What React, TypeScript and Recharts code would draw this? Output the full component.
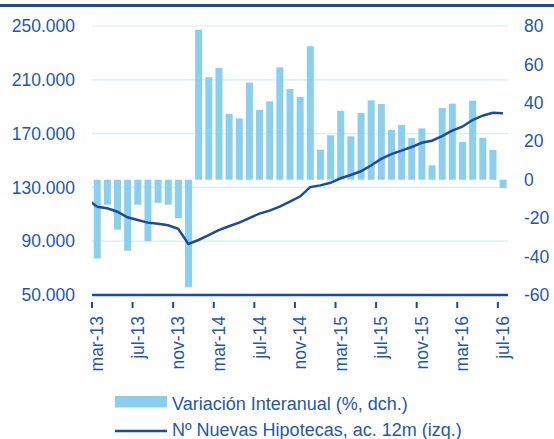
import React from 'react';
import { ComposedChart, Bar, Line, XAxis, YAxis, CartesianGrid, Legend } from 'recharts';

const months = [
  'mar-13','abr-13','may-13','jun-13','jul-13','ago-13','sep-13','oct-13','nov-13','dic-13',
  'ene-14','feb-14','mar-14','abr-14','may-14','jun-14','jul-14','ago-14','sep-14','oct-14','nov-14','dic-14',
  'ene-15','feb-15','mar-15','abr-15','may-15','jun-15','jul-15','ago-15','sep-15','oct-15','nov-15','dic-15',
  'ene-16','feb-16','mar-16','abr-16','may-16','jun-16','jul-16',
];

const variacion = [
  -41, -13, -26, -37, -13, -32, -12, -13, -20, -56,
  78, 53.3, 58.2, 34.2, 31.9, 50.5, 36.3, 40.8, 58.5, 47.2, 43.1, 69.4,
  15.6, 23.1, 35.9, 22.6, 34.7, 41.3, 39.4, 26.0, 28.5, 21.7, 26.7, 7.5,
  37.3, 39.6, 19.6, 41.1, 21.7, 15.5, -4.3,
];

const hipotecas = [
  115600, 114500, 111900, 107800, 105800, 103800, 103000, 101800, 99300, 87900,
  90900, 94600, 98300, 101100, 103800, 107200, 110500, 112700, 115700, 119500, 123200, 130200,
  131500, 133400, 136800, 139200, 142000, 146300, 151200, 154800, 157300, 160000, 163200, 164700,
  168200, 172200, 175100, 180100, 183300, 185500, 185100,
];

// value of the previous month (feb-13), only visible as the line entering from the left edge
const hipotecasPrevio = 121600;

const leftTicks = [50000, 90000, 130000, 170000, 210000, 250000];
const rightTicks = [-60, -40, -20, 0, 20, 40, 60, 80];

const seriesNames = {
  bar: 'Variación Interanual (%, dch.)',
  line: 'Nº Nuevas Hipotecas, ac. 12m (izq.)',
};

const data = months.map((m, i) => ({ mes: m, variacion: variacion[i], hipotecas: hipotecas[i] }));
const stubData = [
  { idx: -1, hipotecas: hipotecasPrevio },
  { idx: 0, hipotecas: hipotecas[0] },
];

const BAR_COLOR = '#89CFF0';
const LINE_COLOR = '#1A4C9C';
const TEXT_COLOR = '#1F58A8';
const GRID_COLOR = '#D2EEFA';
const FONT = '"Liberation Sans", Arial, sans-serif';
const AXIS_FS = 17.5;

const fmtThousands = (v: number) => String(v).replace(/\B(?=(\d{3})+(?!\d))/g, '.');

const XTick = (props: any) => {
  const { x, y, payload } = props;
  const half = payload && typeof payload.offset === 'number' ? payload.offset : 0;
  const ty = y + 13;
  return (
    <g>
      <line x1={x - half} x2={x - half} y1={y - 1} y2={y + 5} stroke={LINE_COLOR} strokeWidth={2} />
      <text
        x={x}
        y={ty}
        dy="0.35em"
        transform={`rotate(-90, ${x}, ${ty})`}
        textAnchor="end"
        fill={TEXT_COLOR}
        fontSize={AXIS_FS}
        fontFamily={FONT}
      >
        {payload.value}
      </text>
    </g>
  );
};

const LeftTick = (props: any) => {
  const { y, payload } = props;
  return (
    <text x={75} y={y} dy="0.35em" textAnchor="end" fill={TEXT_COLOR} fontSize={AXIS_FS} fontFamily={FONT}>
      {fmtThousands(payload.value)}
    </text>
  );
};

const RightTick = (props: any) => {
  const { y, payload } = props;
  return (
    <text x={524} y={y} dy="0.35em" textAnchor="start" fill={TEXT_COLOR} fontSize={AXIS_FS} fontFamily={FONT}>
      {payload.value}
    </text>
  );
};

const LegendContent = () => (
  <svg width={554} height={55} style={{ display: 'block', overflow: 'visible' }}>
    <rect x={115} y={12} width={52} height={11.5} fill={BAR_COLOR} />
    <text x={172} y={26} fill={TEXT_COLOR} fontSize={18} fontFamily={FONT}>{seriesNames.bar}</text>
    <line x1={115} x2={167} y1={47} y2={47} stroke={LINE_COLOR} strokeWidth={2.5} />
    <text x={172} y={51.5} fill={TEXT_COLOR} fontSize={18} fontFamily={FONT}>{seriesNames.line}</text>
  </svg>
);

export default function App() {
  return (
    <div style={{ position: 'absolute', left: 0, top: 0, width: 554, height: 439, background: '#fff' }}>
      <div style={{ position: 'absolute', left: 0, top: 4, width: 554, height: 3, background: LINE_COLOR }} />
      <ComposedChart
        width={554}
        height={439}
        data={data}
        margin={{ top: 26, right: 0, left: 0, bottom: 0 }}
        barCategoryGap="17%"
      >
        <CartesianGrid yAxisId="left" vertical={false} stroke={GRID_COLOR} strokeWidth={1.2} />
        <XAxis
          dataKey="mes"
          interval={3}
          height={89}
          tick={<XTick />}
          tickLine={false}
          axisLine={{ stroke: LINE_COLOR, strokeWidth: 2.5 }}
        />
        <XAxis
          xAxisId="num"
          type="number"
          dataKey="idx"
          domain={[-0.5, 40.5]}
          allowDataOverflow
          hide
        />
        <YAxis
          yAxisId="left"
          orientation="left"
          width={92}
          domain={[50000, 250000]}
          ticks={leftTicks}
          axisLine={false}
          tickLine={false}
          tick={<LeftTick />}
          allowDataOverflow
        />
        <YAxis
          yAxisId="right"
          orientation="right"
          width={46}
          domain={[-60, 80]}
          ticks={rightTicks}
          axisLine={false}
          tickLine={false}
          tick={<RightTick />}
          allowDataOverflow
        />
        <Bar yAxisId="right" dataKey="variacion" name={seriesNames.bar} fill={BAR_COLOR} isAnimationActive={false} />
        <Line
          yAxisId="left"
          type="linear"
          dataKey="hipotecas"
          name={seriesNames.line}
          stroke={LINE_COLOR}
          strokeWidth={2.5}
          dot={false}
          activeDot={false}
          isAnimationActive={false}
        />
        <Line
          data={stubData}
          xAxisId="num"
          yAxisId="left"
          type="linear"
          dataKey="hipotecas"
          legendType="none"
          stroke={LINE_COLOR}
          strokeWidth={2.5}
          dot={false}
          activeDot={false}
          isAnimationActive={false}
        />
        <Legend
          verticalAlign="bottom"
          content={<LegendContent />}
          wrapperStyle={{ left: 0, width: 554, height: 55, bottom: 0 }}
        />
      </ComposedChart>
    </div>
  );
}
